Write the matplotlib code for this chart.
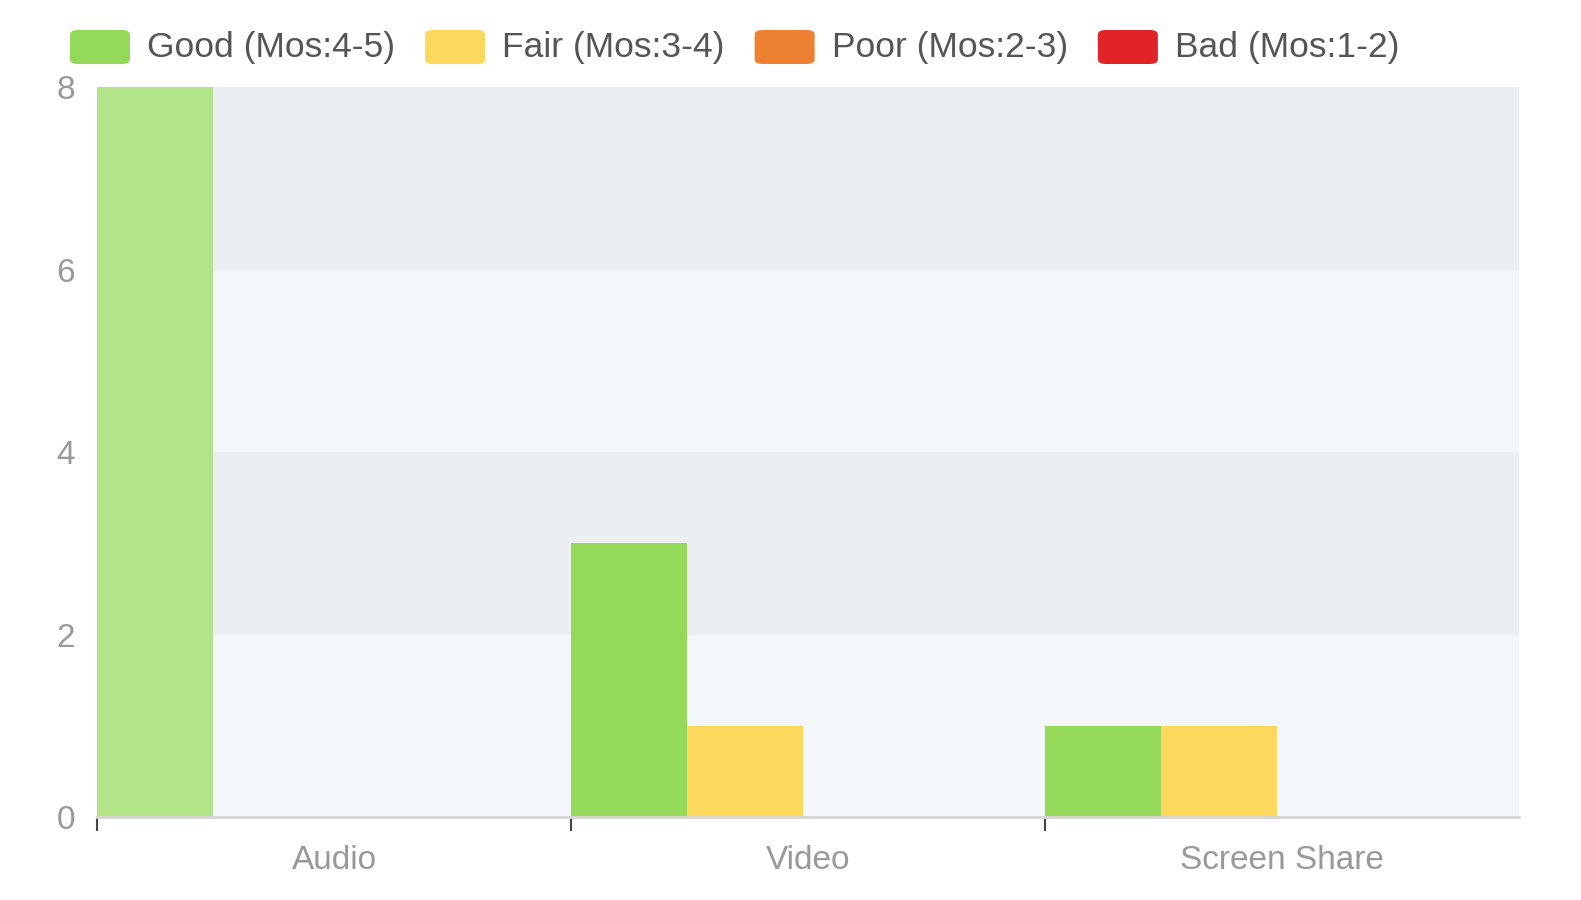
import matplotlib.pyplot as plt
from matplotlib.patches import FancyBboxPatch

categories = ['Audio', 'Video', 'Screen Share']
series_names = ['Good (Mos:4-5)', 'Fair (Mos:3-4)', 'Poor (Mos:2-3)', 'Bad (Mos:1-2)']
good = [8, 3, 1]
fair = [0, 1, 1]
poor = [0, 0, 0]
bad = [0, 0, 0]
y_ticks = [0, 2, 4, 6, 8]

colors = ['#95d95a', '#fcd95c', '#ee8032', '#e02428']
highlight = '#b3e48a'  # hovered bar in the original

plt.rcParams['font.family'] = ['Liberation Sans', 'DejaVu Sans']

fig = plt.figure(figsize=(15.81, 9), dpi=100)
ax = fig.add_axes([0.0614, 0.0922, 0.8994, 0.8111])

# alternating background bands
for i in range(len(y_ticks) - 1):
    c = '#f4f7fa' if i % 2 == 0 else '#eceff2'
    ax.axhspan(y_ticks[i], y_ticks[i + 1], color=c, lw=0, zorder=0)

width = 0.245
values = [good, fair, poor, bad]
for j, vals in enumerate(values):
    x = [i + j * width for i in range(len(categories))]
    bars = ax.bar(x, vals, width=width, align='edge', color=colors[j], lw=0, zorder=2)
    if j == 0:
        bars[0].set_facecolor(highlight)

ax.set_xlim(0, len(categories))
ax.set_ylim(0, 8)
ax.set_yticks(y_ticks)
ax.tick_params(axis='y', length=0, pad=16, labelsize=24, labelcolor='#999999')

ax.set_xticks(range(len(categories)))
ax.set_xticklabels([])
ax.set_xticks([i + 0.5 for i in range(len(categories))], minor=True)
ax.set_xticklabels(categories, minor=True)
ax.tick_params(axis='x', which='major', length=10, width=1.5, color='#444444', direction='out')
ax.tick_params(axis='x', which='minor', length=0, pad=20, labelsize=24, labelcolor='#999999')

for s in ['top', 'right', 'left']:
    ax.spines[s].set_visible(False)
ax.spines['bottom'].set_color('#d5d5d5')
ax.spines['bottom'].set_linewidth(2)
ax.set_facecolor('white')

# legend drawn by hand with rounded swatches
fig.canvas.draw()
renderer = fig.canvas.get_renderer()
x0 = 70
yc = 900 - 47
for name, col in zip(series_names, colors):
    sw = FancyBboxPatch((x0 / 1581, (yc - 17) / 900), 60 / 1581, 34 / 900,
                        boxstyle='round,pad=0,rounding_size=0.005',
                        transform=fig.transFigure, fc=col, ec='none')
    fig.add_artist(sw)
    t = fig.text((x0 + 77) / 1581, yc / 900, name, fontsize=25.5, color='#555555',
                 va='center', ha='left')
    w = t.get_window_extent(renderer).width
    x0 = x0 + 77 + w + 30

fig.savefig('out.png', dpi=100)
